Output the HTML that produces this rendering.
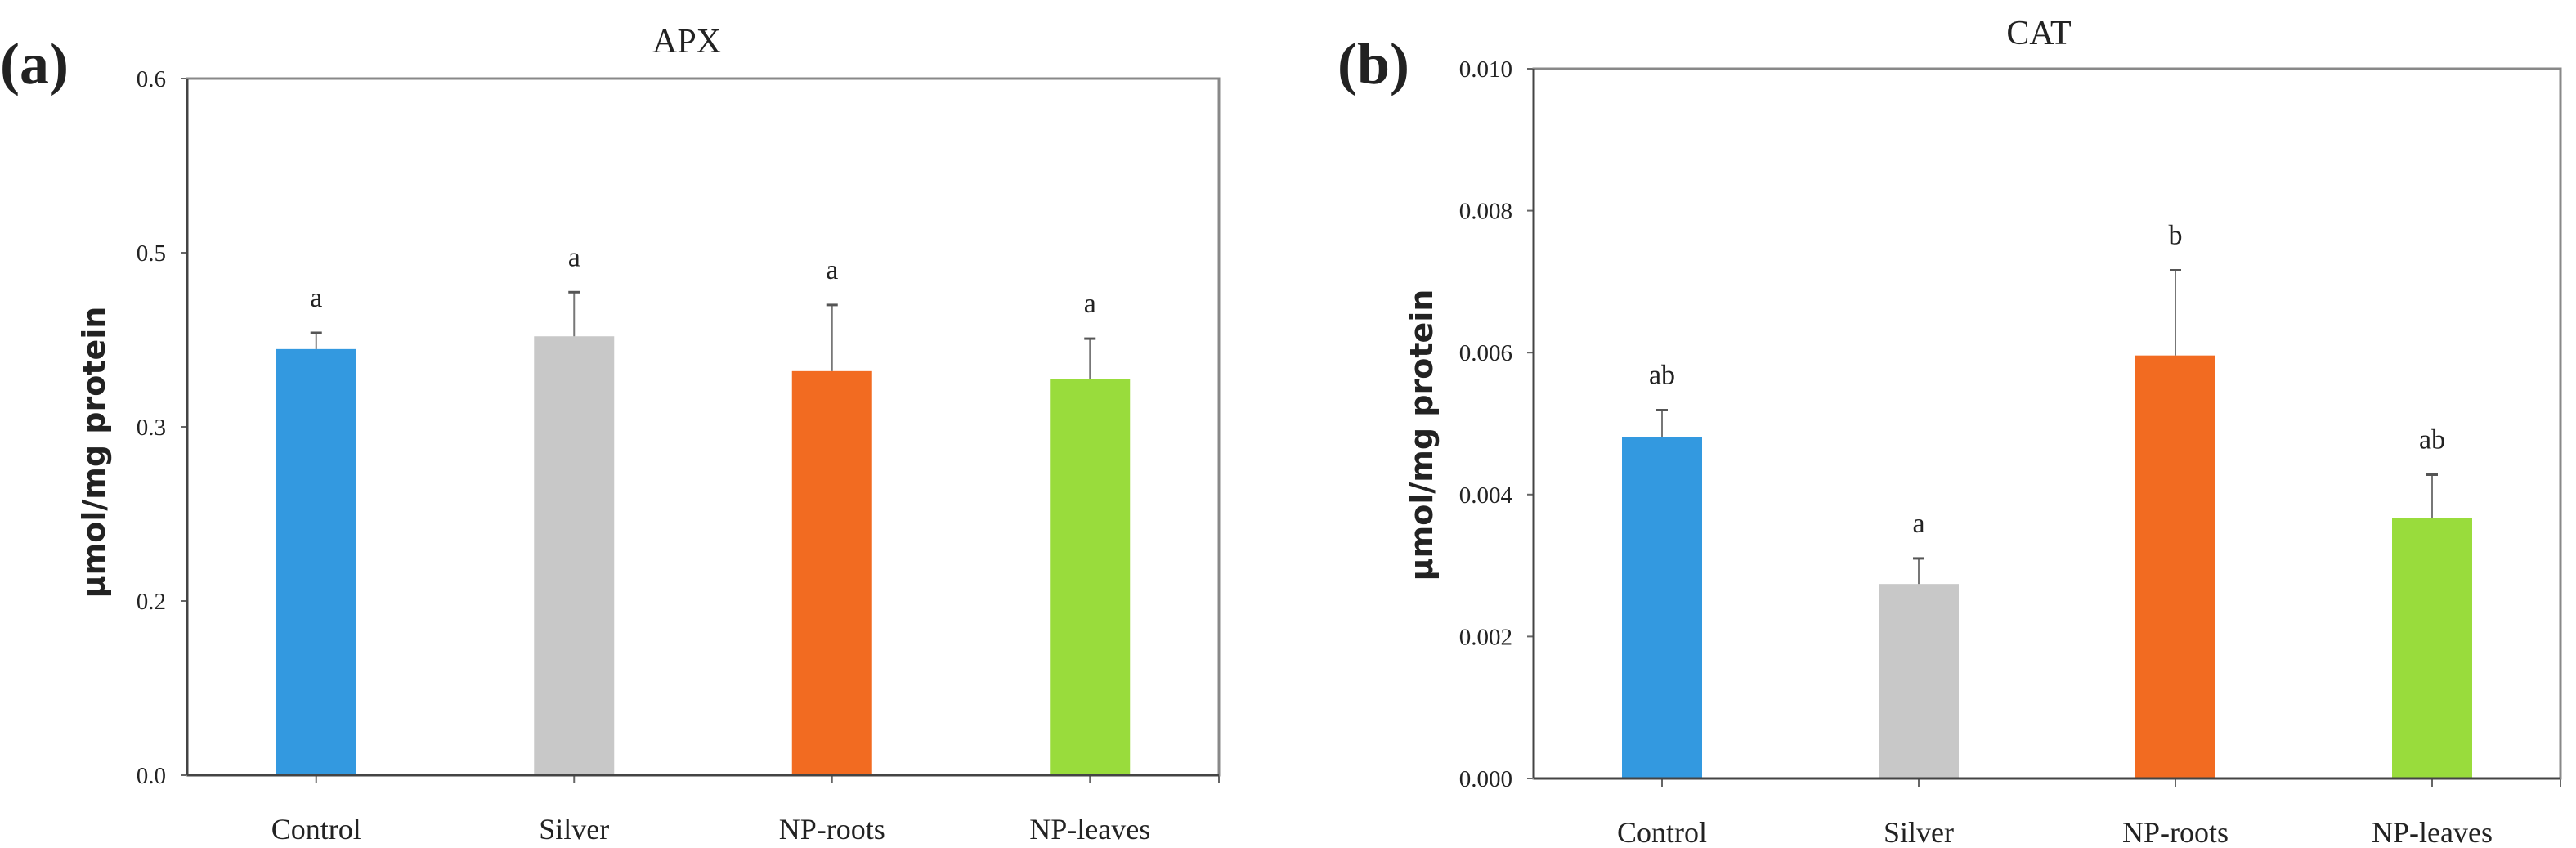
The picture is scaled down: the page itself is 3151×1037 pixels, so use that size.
<!DOCTYPE html>
<html><head><meta charset="utf-8"><style>
body{margin:0;background:#fff;}
svg{display:block;}
text{font-family:"Liberation Serif",serif;fill:#222;}
</style></head><body>
<svg id="fig" width="3151" height="1037" viewBox="0 0 3151 1037"></svg>
<script>
const categories = ["Control","Silver","NP-roots","NP-leaves"];
const colors = ["#3399e0","#c8c8c8","#f26b21","#99dc3c"];
const apxValues = [0.367,0.378,0.348,0.341];
const apxErrors = [0.014,0.038,0.057,0.035];
const apxLetters = ["a","a","a","a"];
const apxTickValues = [0,0.15,0.3,0.45,0.6];
const apxTickLabels = ["0.0","0.2","0.3","0.5","0.6"];
const catValues = [0.00481,0.00274,0.00596,0.00367];
const catErrors = [0.00038,0.00036,0.0012,0.00061];
const catLetters = ["ab","a","b","ab"];
const catTickValues = [0,0.002,0.004,0.006,0.008,0.010];
const catTickLabels = ["0.000","0.002","0.004","0.006","0.008","0.010"];

const NS="http://www.w3.org/2000/svg";
const svg=document.getElementById('fig');
function mk(tag,attrs,parent,name){
  const e=document.createElementNS(NS,tag);
  for(const k in attrs)e.setAttribute(k,attrs[k]);
  
  
  (parent||svg).appendChild(e);return e;
}
function panel(o){
  const g=mk('g',{},svg,o.id+'-panel');
  const yMax=o.ticks[o.ticks.length-1];
  const y=v=>o.b-(v/yMax)*(o.b-o.t);
  const step=(o.r-o.l)/categories.length;
  const x=i=>o.l+step*(i+0.5);
  const pl=mk('text',{x:o.plx,y:o.ply,'font-size':72,'font-weight':'bold'},g,'panel-label');pl.textContent=o.panel;
  const ti=mk('text',{x:o.tx,y:o.ty,'font-size':42,'text-anchor':'middle'},g,'chart-title');ti.textContent=o.title;
  o.ticks.forEach((v,i)=>{
    mk('line',{x1:o.l-8,x2:o.l,y1:y(v),y2:y(v),stroke:'#666','stroke-width':2},g,'y-tick');
    const tl=mk('text',{x:o.l-26,y:y(v)+10,'font-size':29,'text-anchor':'end'},g,'y-tick-label');tl.textContent=o.labels[i];
  });
  const yt=mk('text',{x:0,y:0,'font-size':38,'font-weight':'bold','text-anchor':'middle',transform:`translate(${o.ytx},${o.yty}) rotate(-90)`},g,'y-axis-title');
  yt.style.fontFamily='"DejaVu Sans",sans-serif';yt.textContent='μmol/mg protein';
  categories.forEach((c,i)=>{
    const cx=x(i),bw=98;
    mk('rect',{x:cx-bw/2,y:y(o.vals[i]),width:bw,height:o.b-y(o.vals[i]),fill:colors[i]},g,'bar-'+c.toLowerCase());
    const et=y(o.vals[i]+o.errs[i]);
    mk('line',{x1:cx,x2:cx,y1:y(o.vals[i]),y2:et,stroke:'#777','stroke-width':2},g,'error-bar');
    mk('line',{x1:cx-7,x2:cx+7,y1:et,y2:et,stroke:'#555','stroke-width':3},g,'error-cap');
    const lt=mk('text',{x:cx,y:et-32,'font-size':34,'text-anchor':'middle'},g,'significance-letter');lt.textContent=o.letters[i];
    mk('line',{x1:cx,x2:cx,y1:o.b,y2:o.b+10,stroke:'#666','stroke-width':2},g,'x-tick');
    const cl=mk('text',{x:cx,y:o.b+78,'font-size':36,'text-anchor':'middle'},g,'x-tick-label');cl.textContent=c;
  });
  mk('line',{x1:o.r,x2:o.r,y1:o.b,y2:o.b+10,stroke:'#666','stroke-width':2},g,'x-tick');
  mk('rect',{x:o.l,y:o.t,width:o.r-o.l,height:o.b-o.t,fill:'none',stroke:'#888','stroke-width':3},g,'plot-frame');
  mk('line',{x1:o.l,x2:o.l,y1:o.t,y2:o.b,stroke:'#444','stroke-width':3},g,'y-axis');
  mk('line',{x1:o.l,x2:o.r,y1:o.b,y2:o.b,stroke:'#444','stroke-width':3},g,'x-axis');
}
panel({id:'apx',panel:'(a)',title:'APX',l:229,r:1491,t:96,b:948,vals:apxValues,errs:apxErrors,letters:apxLetters,ticks:apxTickValues,labels:apxTickLabels,plx:0,ply:102,tx:840,ty:64,ytx:128,yty:553});
panel({id:'cat',panel:'(b)',title:'CAT',l:1876,r:3132,t:84,b:952,vals:catValues,errs:catErrors,letters:catLetters,ticks:catTickValues,labels:catTickLabels,plx:1636,ply:102,tx:2494,ty:54,ytx:1752,yty:532});
</script>
</body></html>
